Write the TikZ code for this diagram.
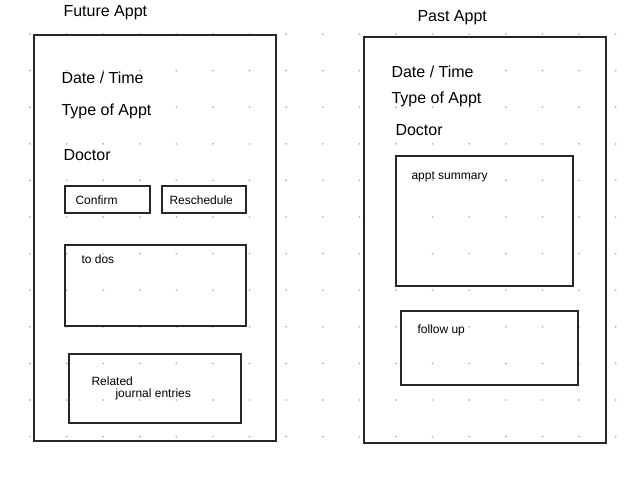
\documentclass[tikz,border=0pt]{standalone}
\usepackage{fontspec}
\setmainfont{Liberation Sans}
\begin{document}
\begin{tikzpicture}[x=1pt,y=-1pt,
  frame/.style={draw=black!85,line width=1.3pt},
  box/.style={draw=black!85,line width=1.1pt},
  hand/.style={anchor=west,font=\fontsize{16}{18}\selectfont},
  small/.style={anchor=west,font=\fontsize{12}{14}\selectfont}]
\useasboundingbox (0,0) rectangle (644,478);
\fill[white] (0,0) rectangle (644,478);
\foreach \i in {0,...,16}{\foreach \j in {0,...,11}{
  \fill[black!25] (30+36.6*\i,34+36.6*\j) circle (1.1);}}
% left
\node[hand] (ft) at (60,13) {Future Appt};
\draw[frame] (34,35) rectangle (276,441);
\node[hand] (ld) at (58,78) {Date / Time};
\node[hand] (lt) at (58,111) {Type of Appt};
\node[hand] (ldoc) at (60,155) {Doctor};
\draw[box] (65,186) rectangle (150,213);
\node[small] (conf) at (72,200) {Confirm};
\draw[box] (162,186) rectangle (246,213);
\node[small] (res) at (166,200) {Reschedule};
\draw[box] (65,245) rectangle (246,326);
\node[small] (todo) at (78,259) {to dos};
\draw[box] (69,354) rectangle (241,423);
\node[small,align=left] (rel) at (88,388) {Related\\[-2pt]\hspace{2em}journal entries};
% right
\node[hand] (pt) at (414,18) {Past Appt};
\draw[frame] (364,37) rectangle (606,443);
\node[hand] (rd) at (388,72) {Date / Time};
\node[hand] (rt) at (388,99) {Type of Appt};
\node[hand] (rdoc) at (392,130) {Doctor};
\draw[box] (396,156) rectangle (573,286);
\node[small] (sum) at (408,177) {appt summary};
\draw[box] (401,311) rectangle (578,385);
\node[small] (fol) at (414,330) {follow up};
\end{tikzpicture}
\end{document}
